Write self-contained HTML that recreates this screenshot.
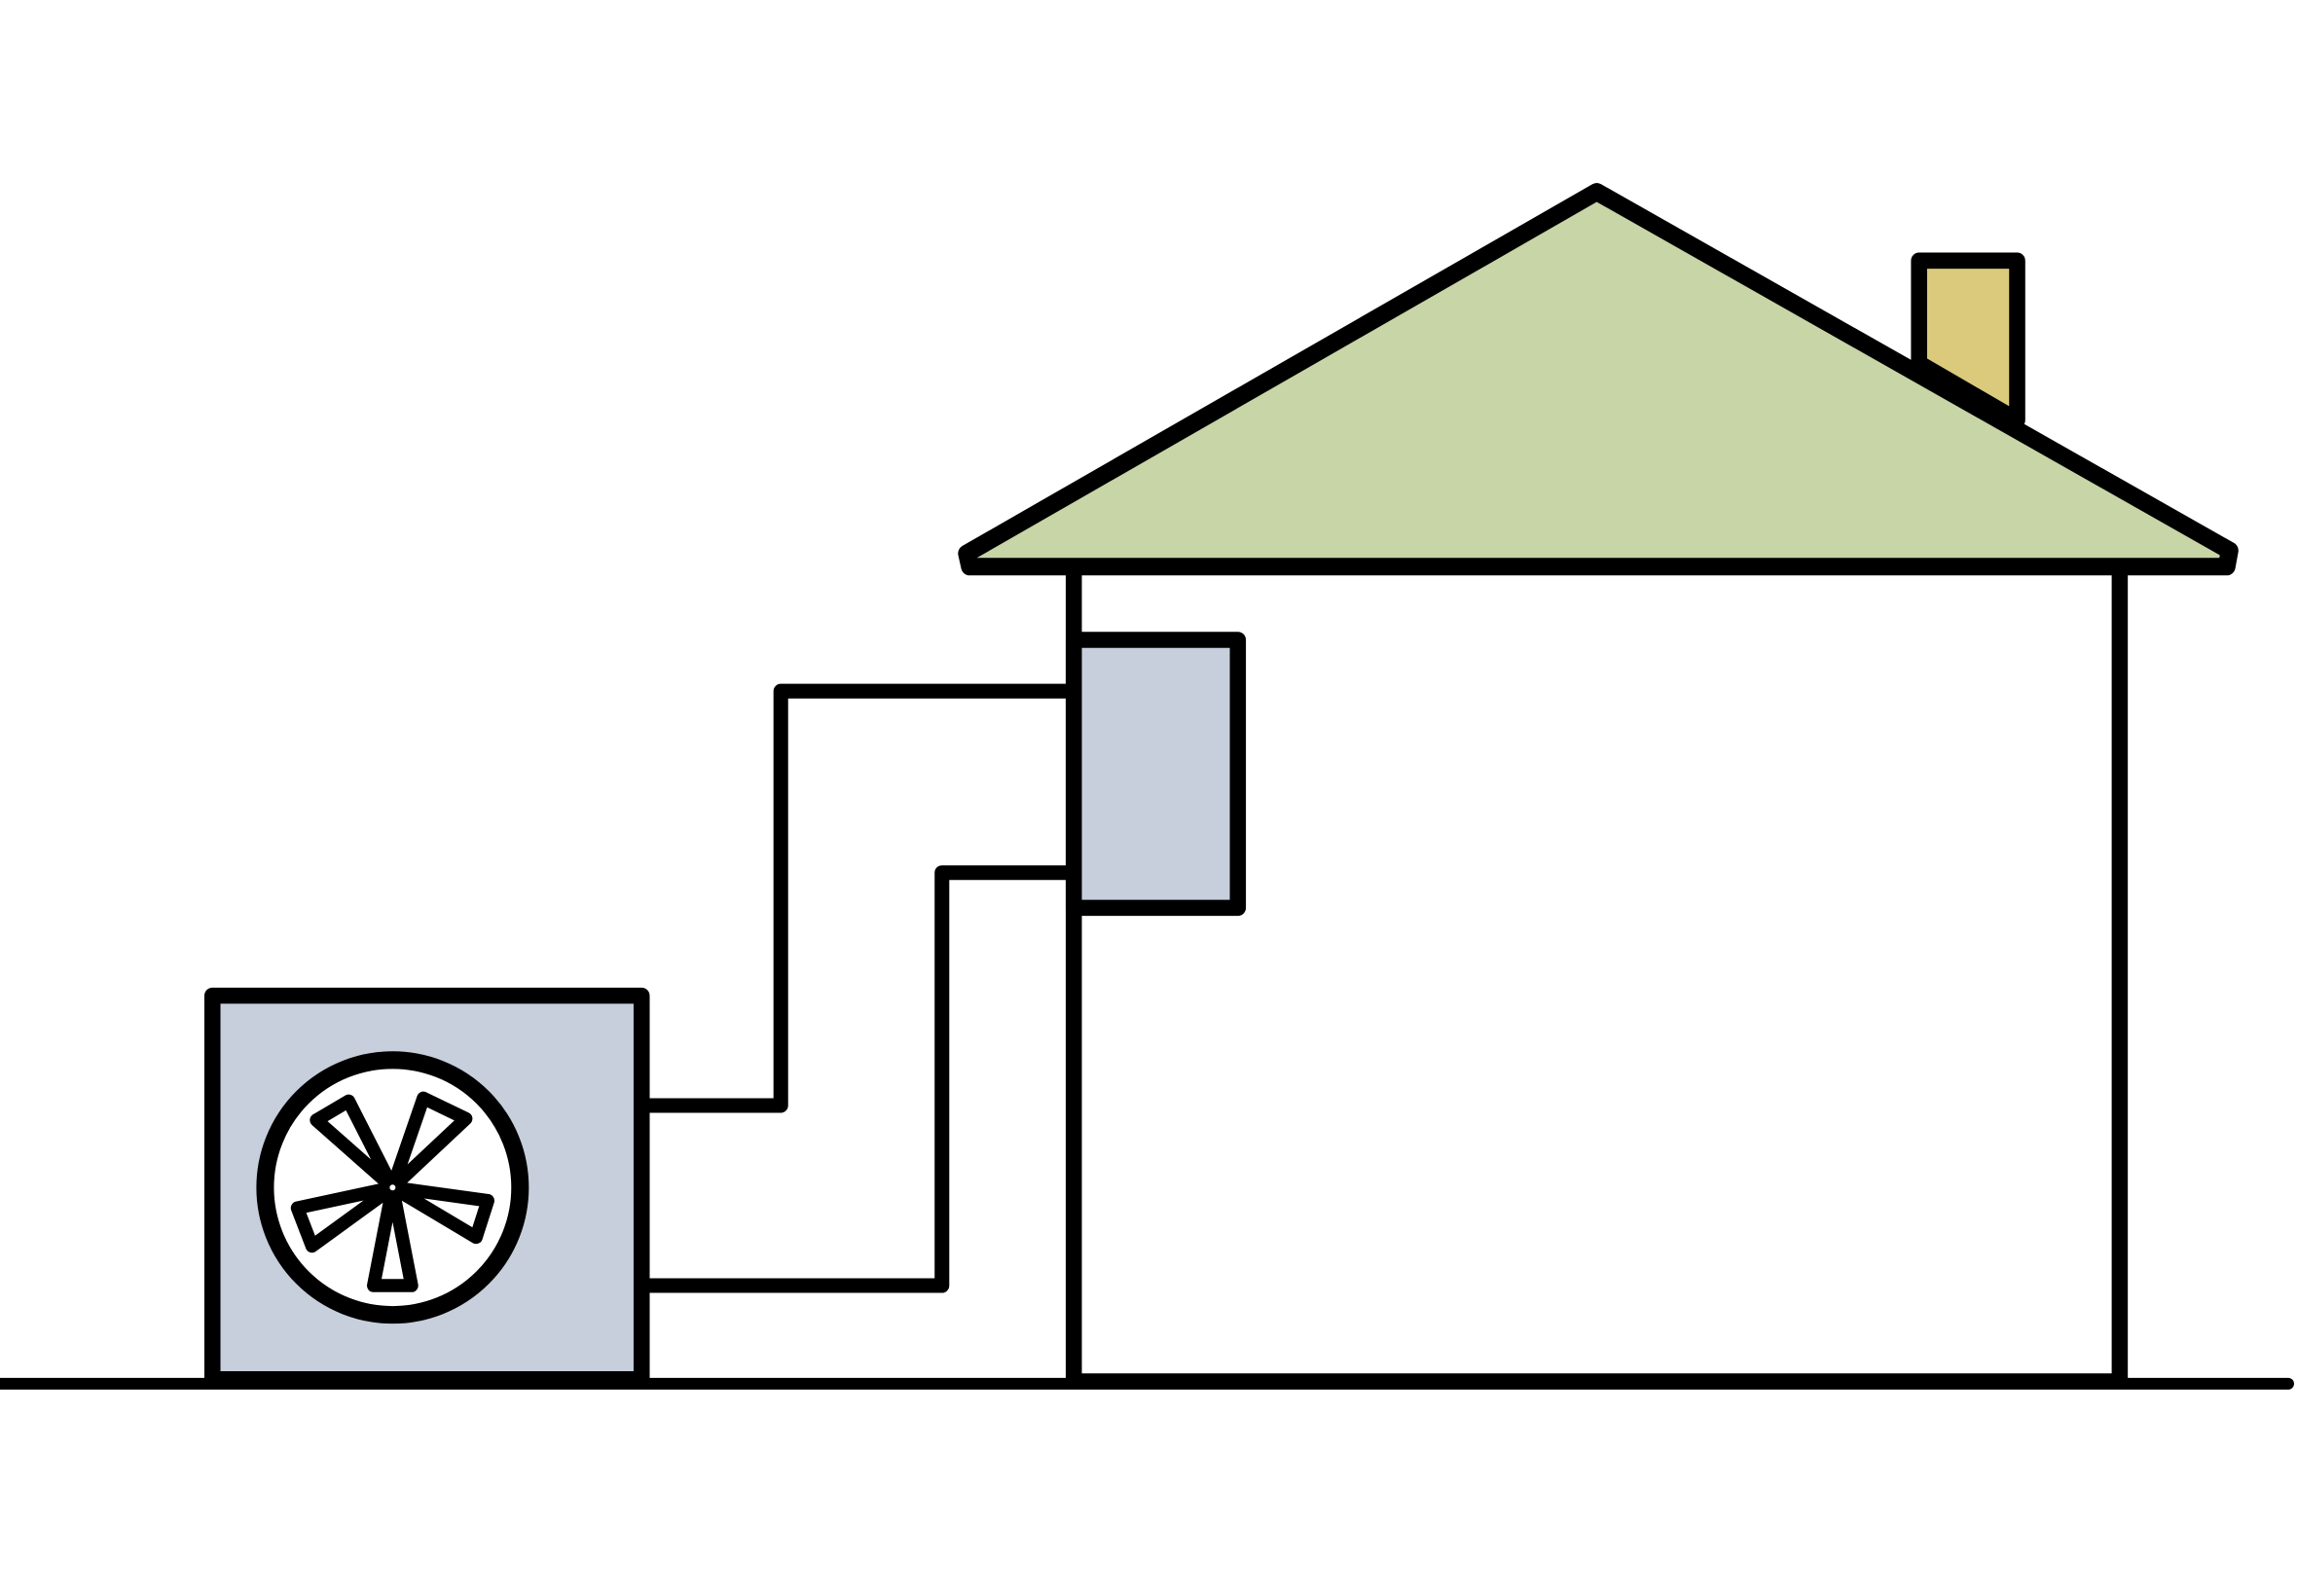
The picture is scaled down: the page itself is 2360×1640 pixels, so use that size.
<!DOCTYPE html>
<html><head><meta charset="utf-8"><style>
html,body{margin:0;padding:0;background:#fff;}
svg{display:block;}
</style></head><body>
<svg width="2360" height="1640" viewBox="0 0 1568 1090" preserveAspectRatio="none" xmlns="http://www.w3.org/2000/svg">
<g stroke="#000" stroke-linejoin="round" stroke-linecap="round" fill="none">
  <line x1="0" y1="945" x2="1562" y2="945" stroke-width="8"/>
  <g stroke-width="10">
    <polyline points="438,755 533,755 533,472 733,472"/>
    <polyline points="438,878 643,878 643,596 733,596"/>
  </g>
  <polygon points="1310,178 1377,178 1377,287 1310,248" fill="#dbca7b" stroke-width="11"/>
  <line x1="733" y1="388" x2="733" y2="943" stroke-width="11"/>
  <line x1="1447" y1="388" x2="1447" y2="943" stroke-width="11"/>
  <line x1="733" y1="942" x2="1447" y2="942" stroke-width="8"/>
  <polygon points="662,387 660,378 1090,131 1522,376 1520,387" fill="#c7d5a7" stroke-width="12"/>
  <rect x="733" y="437" width="112" height="183" fill="#c7cfdc" stroke-width="11"/>
  <rect x="145" y="680" width="293" height="262" fill="#c7cfdc" stroke-width="11"/>
  <circle cx="268" cy="811" r="87" fill="#fff" stroke-width="12"/>
  <g stroke-width="9" fill="#fff">
    <polygon points="268,811 216,765 238,752"/>
    <polygon points="268,811 289,750 318,764"/>
    <polygon points="268,811 333,820 325,845"/>
    <polygon points="268,811 255,878 281,878"/>
    <polygon points="268,811 203,825 213,851"/>
  </g>
  <circle cx="268" cy="811" r="4" fill="#fff" stroke-width="4"/>
</g>
</svg>
</body></html>
